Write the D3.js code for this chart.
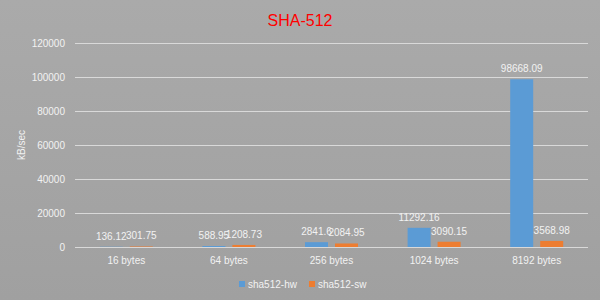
<!DOCTYPE html>
<html>
<head>
<meta charset="utf-8">
<script src="https://cdn.jsdelivr.net/npm/d3@7"></script>
<style>
  html, body { margin: 0; padding: 0; background: #a5a5a5; }
  svg { display: block; }
  text { font-family: "Liberation Sans", Arial, sans-serif; }
</style>
</head>
<body>
<svg id="chart" width="600" height="300"></svg>
<script>
const categories = ["16 bytes", "64 bytes", "256 bytes", "1024 bytes", "8192 bytes"];
const seriesNames = ["sha512-hw", "sha512-sw"];
const hwValues = [136.12, 588.95, 2841.6, 11292.16, 98668.09];
const swValues = [301.75, 1208.73, 2084.95, 3090.15, 3568.98];
const yTicks = [0, 20000, 40000, 60000, 80000, 100000, 120000];
const colors = ["#5b9bd5", "#ed7d31"];
const title = "SHA-512";
const yLabel = "kB/sec";

const seriesValues = [hwValues, swValues];
const rows = categories.map((c, i) => ({
  cat: c,
  vals: seriesNames.map((s, j) => ({ series: s, value: seriesValues[j][i], idx: j }))
}));

const W = 600, H = 300;
const svg = d3.select("#chart");

const defs = svg.append("defs");
const grad = defs.append("linearGradient").attr("id", "bg").attr("x1", 0).attr("y1", 0).attr("x2", 0).attr("y2", 1);
grad.append("stop").attr("offset", "0%").attr("stop-color", "#aaaaaa");
grad.append("stop").attr("offset", "100%").attr("stop-color", "#a0a0a0");
svg.append("rect").attr("width", W).attr("height", H).attr("fill", "url(#bg)");

const x0 = d3.scaleBand().domain(categories).range([75, 588]).paddingInner(0).paddingOuter(0);
const bw = x0.bandwidth();
const x1 = d3.scaleBand().domain(seriesNames).range([bw / 2 - 26.5, bw / 2 + 26.5]).paddingInner(0.2333).paddingOuter(0);
const y = d3.scaleLinear().domain([0, 120000]).range([247, 43]);

const textColor = "#f2f2f2";

// title
svg.append("text").attr("x", 300).attr("y", 26).attr("text-anchor", "middle")
  .attr("fill", "#ff0000").attr("font-size", 16).text(title);

// gridlines + y axis
const yAxis = d3.axisLeft(y).tickValues(yTicks).tickSize(0).tickPadding(10).tickFormat(d3.format("d"));
const gy = svg.append("g").attr("transform", "translate(75,0)").call(yAxis);
gy.select(".domain").remove();
gy.selectAll(".tick text").attr("fill", textColor).attr("font-size", 10)
  .attr("font-family", "'Liberation Sans', Arial, sans-serif");
gy.selectAll(".tick").append("line").attr("x1", 0).attr("x2", 588 - 75)
  .attr("stroke", "#d9d9d9").attr("stroke-width", 1);

// y label
svg.append("text").attr("transform", "translate(25,145) rotate(-90)").attr("text-anchor", "middle")
  .attr("fill", textColor).attr("font-size", 10).text(yLabel);

// bars
const groups = svg.append("g").selectAll("g").data(rows).join("g")
  .attr("transform", d => `translate(${x0(d.cat)},0)`);
groups.selectAll("rect").data(d => d.vals).join("rect")
  .attr("x", d => x1(d.series)).attr("width", x1.bandwidth())
  .attr("y", d => y(d.value)).attr("height", d => y(0) - y(d.value))
  .attr("fill", d => colors[d.idx]);
groups.selectAll("text.val").data(d => d.vals).join("text").attr("class", "val")
  .attr("x", d => x1(d.series) + x1.bandwidth() / 2)
  .attr("y", d => y(d.value) - 7)
  .attr("text-anchor", "middle").attr("fill", textColor).attr("font-size", 10)
  .text(d => String(d.value));

// x axis
const xAxis = d3.axisBottom(x0).tickSize(0).tickPadding(10);
const gx = svg.append("g").attr("transform", `translate(0,${y(0)})`).call(xAxis);
gx.select(".domain").remove();
gx.selectAll(".tick text").attr("fill", textColor).attr("font-size", 10)
  .attr("font-family", "'Liberation Sans', Arial, sans-serif");

// legend
const legendX = [239, 309];
const lg = svg.append("g").selectAll("g").data(seriesNames).join("g")
  .attr("transform", (d, i) => `translate(${legendX[i]},281)`);
lg.append("rect").attr("width", 6).attr("height", 6).attr("fill", (d, i) => colors[i]);
lg.append("text").attr("x", 9).attr("y", 7).attr("fill", textColor).attr("font-size", 10).text(d => d);
</script>
</body>
</html>
